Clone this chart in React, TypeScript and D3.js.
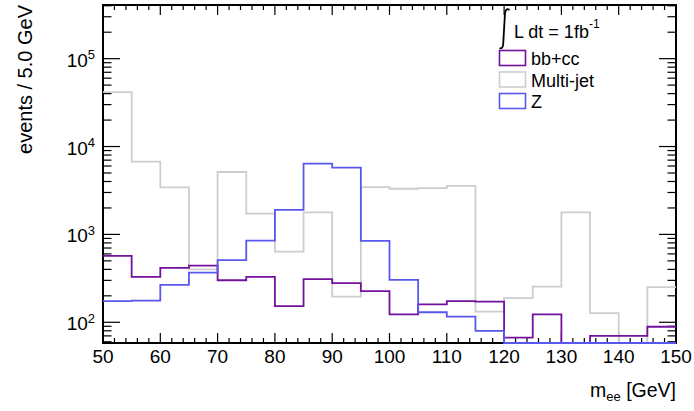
import React from "react";
import * as d3 from "d3";

// Histogram bins (lower edges, GeV) and bin width
const binLow = [50, 55, 60, 65, 70, 75, 80, 85, 90, 95, 100, 105, 110, 115, 120, 125, 130, 135, 140, 145];
const binWidth = 5;

// Events per bin for each sample
const bbcc = [570, 329, 416, 442, 301, 329, 153, 309, 279, 226, 123, 160, 174, 172, 67, 123, 0, 70, 70, 89];
const multijet = [41500, 6730, 3430, 400, 5130, 1720, 638, 1780, 196, 3460, 3310, 3370, 3560, 132, 188, 255, 1780, 127, 0, 251];
const zboson = [174, 176, 266, 367, 509, 851, 1905, 6380, 5740, 845, 303, 130, 116, 80, 0, 0, 0, 0, 0, 0];

// Axis tick labels
const xTickLabels = [50, 60, 70, 80, 90, 100, 110, 120, 130, 140, 150];
const yDecades = [100, 1000, 10000, 100000];

const legendNames = ["bb+cc", "Multi-jet", "Z"];
const colors = { bbcc: "#74109e", multijet: "#cdcdcd", z: "#5858ee" };

const W = 694;
const H = 411;
const frame = { left: 103, right: 676, top: 5, bottom: 343 };
const yMin = 58.1;
const yMax = 4.08e5;
const FONT = "'Liberation Sans', Arial, Helvetica, sans-serif";

export default function App() {
  const x = d3.scaleLinear().domain([50, 150]).range([frame.left, frame.right]);
  const y = d3.scaleLog().domain([yMin, yMax]).range([frame.bottom, frame.top]);

  const stepLine = d3
    .line<[number, number]>()
    .x((d) => x(d[0]))
    .y((d) => y(Math.max(d[1], yMin)))
    .curve(d3.curveStepAfter);

  const histPath = (vals: number[]) => {
    const pts: [number, number][] = binLow.map((lo, i) => [lo, vals[i]]);
    pts.push([binLow[binLow.length - 1] + binWidth, vals[vals.length - 1]]);
    return stepLine(pts) ?? "";
  };

  const xMinor = d3.range(50, 150.001, 2);
  const yMinor = y.ticks().filter((t) => t >= yMin && t <= yMax);

  const majorX = 10;
  const minorX = 5;
  const majorY = 17;
  const minorY = 8.5;

  const legendRows = [
    { name: legendNames[0], color: colors.bbcc, yb: 65 },
    { name: legendNames[1], color: colors.multijet, yb: 86.5 },
    { name: legendNames[2], color: colors.z, yb: 108 },
  ];

  return (
    <svg
      width={W}
      height={H}
      viewBox={`0 0 ${W} ${H}`}
      style={{ position: "absolute", left: 0, top: 0, background: "#fff" }}
      fontFamily={FONT}
    >
      <rect x={0} y={0} width={W} height={H} fill="#fff" />

      {/* ticks: bottom and top */}
      <g stroke="#000" strokeWidth={1.2}>
        {xMinor.map((v) => {
          const isMajor = Math.abs(v % 10) < 1e-6;
          const len = isMajor ? majorX : minorX;
          return (
            <g key={`xt${v}`}>
              <line x1={x(v)} x2={x(v)} y1={frame.bottom} y2={frame.bottom - len} />
              <line x1={x(v)} x2={x(v)} y1={frame.top} y2={frame.top + len} />
            </g>
          );
        })}
        {yMinor.map((v) => {
          const isMajor = Math.abs(Math.log10(v) - Math.round(Math.log10(v))) < 1e-6;
          const len = isMajor ? majorY : minorY;
          return (
            <g key={`yt${v}`}>
              <line x1={frame.left} x2={frame.left + len} y1={y(v)} y2={y(v)} />
              <line x1={frame.right} x2={frame.right - len} y1={y(v)} y2={y(v)} />
            </g>
          );
        })}
      </g>

      {/* frame */}
      <rect
        x={frame.left}
        y={frame.top}
        width={frame.right - frame.left}
        height={frame.bottom - frame.top}
        fill="none"
        stroke="#000"
        strokeWidth={2}
      />

      {/* histograms */}
      <g fill="none" strokeWidth={1.8}>
        <path d={histPath(multijet)} stroke={colors.multijet} />
        <path d={histPath(bbcc)} stroke={colors.bbcc} />
        <path d={histPath(zboson)} stroke={colors.z} />
      </g>

      {/* x tick labels */}
      <g fontSize={19} textAnchor="middle" fill="#000">
        {xTickLabels.map((v) => (
          <text key={`xl${v}`} x={x(v)} y={363}>
            {v}
          </text>
        ))}
      </g>

      {/* y tick labels */}
      <g fill="#000" textAnchor="end">
        {yDecades.map((v) => {
          const e = Math.round(Math.log10(v));
          return (
            <text key={`yl${v}`} x={95} y={y(v) + 8} fontSize={19}>
              10
              <tspan fontSize={13} dy={-7.4}>
                {e}
              </tspan>
            </text>
          );
        })}
      </g>

      {/* axis titles */}
      <text x={676} y={397} fontSize={19.5} textAnchor="end" fill="#000">
        m<tspan fontSize={13} dy={4}>ee</tspan>
        <tspan dy={-4}> [GeV]</tspan>
      </text>
      <text
        transform={`translate(32, 5) rotate(-90)`}
        fontSize={20}
        textAnchor="end"
        fill="#000"
      >
        events / 5.0 GeV
      </text>

      {/* luminosity label */}
      <path
        d="M 509.5 10 Q 506 7.5 505 13 L 503.2 44 Q 502.6 49.5 499.5 48"
        fill="none"
        stroke="#000"
        strokeWidth={1.8}
      />
      <text x={514} y={37.7} fontSize={18} fill="#000">
        L dt = 1fb<tspan fontSize={12} dy={-10}>-1</tspan>
      </text>

      {/* legend */}
      {legendRows.map((r) => (
        <g key={r.name}>
          <rect
            x={499.5}
            y={r.yb - 14.5}
            width={26}
            height={15}
            fill="none"
            stroke={r.color}
            strokeWidth={1.6}
          />
          <text x={531} y={r.yb} fontSize={18} fill="#000">
            {r.name}
          </text>
        </g>
      ))}
    </svg>
  );
}
